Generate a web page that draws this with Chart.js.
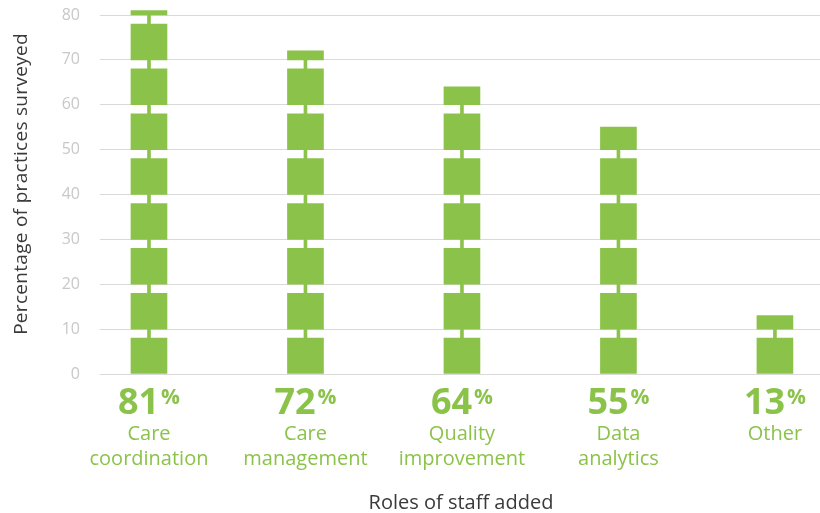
<!DOCTYPE html>
<html>
<head>
<meta charset="utf-8">
<script src="https://cdn.jsdelivr.net/npm/chart.js@4/dist/chart.umd.min.js"></script>
<style>
  html, body { margin: 0; padding: 0; background: #fff; }
  #wrap { width: 820px; height: 513px; position: relative; }
</style>
</head>
<body>
<div id="wrap"><canvas id="chart"></canvas></div>
<script>
// data
const categories = [
  ["Care", "coordination"],
  ["Care", "management"],
  ["Quality", "improvement"],
  ["Data", "analytics"],
  ["Other"],
];
const shares = [81, 72, 64, 55, 13];
const yMax = 80;
const yStep = 10;
const xTitle = "Roles of staff added";
const yTitle = "Percentage of practices surveyed";

const green = "#8bc34a";
const font = '"Open Sans", "Noto Sans", sans-serif';

// each bar is drawn as stacked blocks of 8 with a thin stem in the 2-unit gaps
const blocks = [];
const stems = [];
shares.forEach(function (v, i) {
  for (let k = 0; k * yStep < v; k++) {
    const lo = k * yStep;
    blocks.push({ x: i, y: [lo, Math.min(lo + 8, v)] });
    if (lo + yStep < v) stems.push({ x: i, y: [lo + 8, lo + yStep] });
  }
});

const labelPlugin = {
  id: "catLabels",
  afterDraw: function (chart) {
    const ctx = chart.ctx;
    const xs = chart.scales.x;
    const area = chart.chartArea;
    const base = area.bottom;
    ctx.save();
    ctx.textBaseline = "alphabetic";
    shares.forEach(function (v, i) {
      const cx = xs.getPixelForValue(i);
      const num = String(v);
      ctx.font = "bold 36px " + font;
      const nw = ctx.measureText(num).width;
      ctx.font = "bold 21px " + font;
      const pw = ctx.measureText("%").width;
      const start = cx - (nw + pw + 2) / 2;
      ctx.fillStyle = green;
      ctx.textAlign = "left";
      ctx.font = "bold 36px " + font;
      ctx.fillText(num, start, base + 40);
      ctx.font = "bold 21px " + font;
      ctx.fillText("%", start + nw + 2, base + 30);
      ctx.font = "20px " + font;
      ctx.textAlign = "center";
      categories[i].forEach(function (line, j) {
        ctx.fillText(line, cx, base + 66 + j * 25);
      });
    });
    // axis titles
    ctx.fillStyle = "#3a3a3a";
    ctx.font = "20px " + font;
    ctx.textAlign = "center";
    ctx.fillText(xTitle, (area.left + area.right) / 2 + 1, base + 135);
    ctx.translate(27, 184);
    ctx.rotate(-Math.PI / 2);
    ctx.font = "19px " + font;
    ctx.letterSpacing = "0.3px";
    ctx.fillText(yTitle, 0, 0);
    ctx.restore();
  },
};

new Chart(document.getElementById("chart"), {
  type: "bar",
  data: {
    datasets: [
      {
        data: blocks,
        backgroundColor: green,
        borderWidth: 0,
        barThickness: 36,
        grouped: false,
        clip: false,
      },
      {
        data: stems,
        backgroundColor: green,
        borderWidth: 0,
        barThickness: 3,
        grouped: false,
        clip: false,
      },
    ],
  },
  options: {
    responsive: true,
    maintainAspectRatio: false,
    animation: false,
    layout: { padding: { top: 15, bottom: 139, right: 0, left: 0 } },
    plugins: {
      legend: { display: false },
      tooltip: { enabled: false },
    },
    scales: {
      x: {
        type: "linear",
        display: false,
        offset: false,
        min: -0.313,
        max: 4.288,
      },
      y: {
        min: 0,
        max: yMax,
        afterFit: function (scale) {
          scale.width = 100;
          scale.paddingTop = 0;
          scale.paddingBottom = 0;
        },
        ticks: {
          stepSize: yStep,
          color: "#c8c8c8",
          font: { family: font, size: 16 },
          padding: 20,
        },
        grid: { color: "#d9d9d9", drawTicks: false, lineWidth: 1 },
        border: { display: false },
      },
    },
  },
  plugins: [labelPlugin],
});
</script>
</body>
</html>
